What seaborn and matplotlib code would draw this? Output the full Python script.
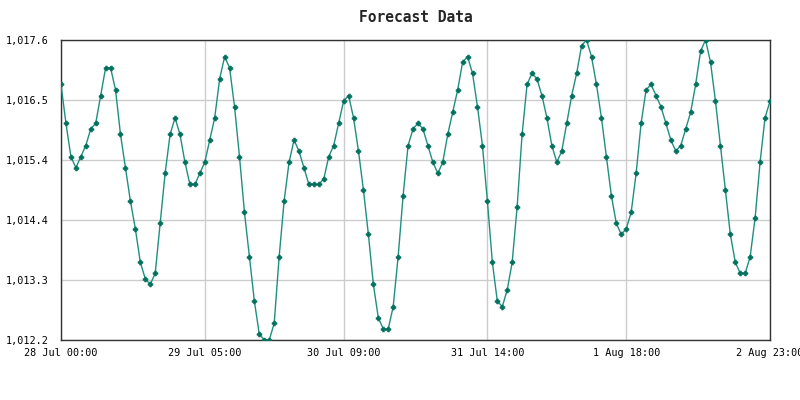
import pandas as pd
import matplotlib
matplotlib.use("Agg")
import matplotlib.pyplot as plt
import seaborn as sns

# hourly pressure readings (hPa)
pressure = [
    1016.8, 1016.1, 1015.5, 1015.3, 1015.5, 1015.7, 1016.0, 1016.1, 1016.6, 1017.1,
    1017.1, 1016.7, 1015.9, 1015.3, 1014.7, 1014.2, 1013.6, 1013.3, 1013.2, 1013.4,
    1014.3, 1015.2, 1015.9, 1016.2, 1015.9, 1015.4, 1015.0, 1015.0, 1015.2, 1015.4,
    1015.8, 1016.2, 1016.9, 1017.3, 1017.1, 1016.4, 1015.5, 1014.5, 1013.7, 1012.9,
    1012.3, 1012.2, 1012.2, 1012.5, 1013.7, 1014.7, 1015.4, 1015.8, 1015.6, 1015.3,
    1015.0, 1015.0, 1015.0, 1015.1, 1015.5, 1015.7, 1016.1, 1016.5, 1016.6, 1016.2,
    1015.6, 1014.9, 1014.1, 1013.2, 1012.6, 1012.4, 1012.4, 1012.8, 1013.7, 1014.8,
    1015.7, 1016.0, 1016.1, 1016.0, 1015.7, 1015.4, 1015.2, 1015.4, 1015.9, 1016.3,
    1016.7, 1017.2, 1017.3, 1017.0, 1016.4, 1015.7, 1014.7, 1013.6, 1012.9, 1012.8,
    1013.1, 1013.6, 1014.6, 1015.9, 1016.8, 1017.0, 1016.9, 1016.6, 1016.2, 1015.7,
    1015.4, 1015.6, 1016.1, 1016.6, 1017.0, 1017.5, 1017.6, 1017.3, 1016.8, 1016.2,
    1015.5, 1014.8, 1014.3, 1014.1, 1014.2, 1014.5, 1015.2, 1016.1, 1016.7, 1016.8,
    1016.6, 1016.4, 1016.1, 1015.8, 1015.6, 1015.7, 1016.0, 1016.3, 1016.8, 1017.4,
    1017.6, 1017.2, 1016.5, 1015.7, 1014.9, 1014.1, 1013.6, 1013.4, 1013.4, 1013.7,
    1014.4, 1015.4, 1016.2, 1016.5,
]
times = pd.date_range("2023-07-28 00:00", periods=len(pressure), freq="h")

tick_times = pd.to_datetime([
    "2023-07-28 00:00", "2023-07-29 05:00", "2023-07-30 09:00",
    "2023-07-31 14:00", "2023-08-01 18:00", "2023-08-02 23:00",
])
tick_labels = ["28 Jul 00:00", "29 Jul 05:00", "30 Jul 09:00",
               "31 Jul 14:00", "1 Aug 18:00", "2 Aug 23:00"]
y_min, y_max = 1012.2, 1017.6
y_ticks = [y_min + i * (y_max - y_min) / 5 for i in range(6)]

df = pd.DataFrame({"time": times, "pressure": pressure})

sns.set_theme(style="white")
plt.rcParams["font.family"] = ["DejaVu Sans Mono"]

fig = plt.figure(figsize=(8, 4), dpi=100)
ax = fig.add_axes([61 / 800, 60 / 400, 709 / 800, 300 / 400])

sns.lineplot(data=df, x="time", y="pressure", ax=ax, color="#1f8f80",
             linewidth=1.0, marker="P", markersize=3.5,
             markerfacecolor="#00705c", markeredgecolor="#00705c",
             markeredgewidth=0.5, zorder=3)

ax.set_xlim(tick_times[0], tick_times[-1])
ax.set_ylim(y_min, y_max)
ax.set_xticks(tick_times)
ax.set_xticklabels(tick_labels)
ax.set_yticks(y_ticks)
ax.set_yticklabels([f"{v:,.1f}" for v in y_ticks])
ax.tick_params(axis="both", length=0, labelsize=7.3, colors="black")
ax.tick_params(axis="x", pad=6)
ax.tick_params(axis="y", pad=9)

ax.grid(True, color="#cccccc", linewidth=1.0, zorder=0)
for spine in ax.spines.values():
    spine.set_color("#333333")
    spine.set_linewidth(1.0)

ax.set_xlabel("")
ax.set_ylabel("")
ax.set_title("Forecast Data", fontsize=10.5, fontweight="bold", pad=13)

fig.savefig("out.png", dpi=100)
